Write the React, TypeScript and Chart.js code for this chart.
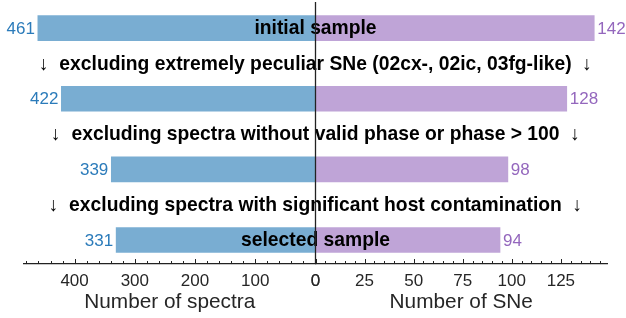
import React, { useEffect, useRef } from 'react';
import { Chart, registerables } from 'chart.js';

Chart.register(...registerables);

// ---- data ----
const rowTexts = [
  'initial sample',
  '↓  excluding extremely peculiar SNe (02cx-, 02ic, 03fg-like)  ↓',
  '',
  '↓  excluding spectra without valid phase or phase > 100  ↓',
  '',
  '↓  excluding spectra with significant host contamination  ↓',
  'selected sample',
];
const barRows = [0, 2, 4, 6];
const spectraCounts = [461, 422, 339, 331];
const sneCounts = [142, 128, 98, 94];
const spectraAxisMax = 484;
const sneAxisMax = 148.5;
const spectraMajor = 100;
const spectraMinor = 20;
const sneMajor = 25;
const sneMinor = 5;
const spectraTitle = 'Number of spectra';
const sneTitle = 'Number of SNe';

const BLUE_BAR = 'rgba(31,119,180,0.6)';
const PURPLE_BAR = 'rgba(148,103,189,0.6)';
const BLUE_TXT = '#2b7bba';
const PURPLE_TXT = '#9467bd';
const AXIS = '#222222';
const FONT = '"Liberation Sans", Arial, sans-serif';

const overlay = {
  id: 'overlay',
  afterDatasetsDraw(chart: any) {
    const { ctx, chartArea, scales } = chart;
    const xL = scales.xL;
    const xR = scales.xR;
    const y = scales.y;
    const cx = xR.left;
    ctx.save();
    // value labels
    ctx.font = `17px ${FONT}`;
    ctx.textBaseline = 'middle';
    chart.getDatasetMeta(0).data.forEach((el: any, i: number) => {
      ctx.fillStyle = BLUE_TXT;
      ctx.textAlign = 'right';
      ctx.fillText(String(spectraCounts[i]), el.x - 3, el.y + 1);
    });
    chart.getDatasetMeta(1).data.forEach((el: any, i: number) => {
      ctx.fillStyle = PURPLE_TXT;
      ctx.textAlign = 'left';
      ctx.fillText(String(sneCounts[i]), el.x + 3, el.y + 1);
    });
    // row annotations
    ctx.font = `bold 19.3px ${FONT}`;
    ctx.textAlign = 'center';
    ctx.fillStyle = '#000';
    rowTexts.forEach((t, i) => {
      if (t) ctx.fillText(t, cx, y.getPixelForValue(i) + 1);
    });
    // center line
    ctx.strokeStyle = AXIS;
    ctx.lineWidth = 1.3;
    ctx.beginPath();
    ctx.moveTo(cx, chartArea.top);
    ctx.lineTo(cx, chartArea.bottom);
    ctx.stroke();
    // tick marks (inward, major/minor)
    ctx.lineWidth = 1;
    const drawTicks = (scale: any, major: number) => {
      scale.ticks.forEach((t: any) => {
        const px = Math.round(scale.getPixelForValue(t.value)) + 0.5;
        const len = t.value % major === 0 ? 5 : 3;
        ctx.beginPath();
        ctx.moveTo(px, chartArea.bottom);
        ctx.lineTo(px, chartArea.bottom - len);
        ctx.stroke();
      });
    };
    drawTicks(xL, spectraMajor);
    drawTicks(xR, sneMajor);
    ctx.restore();
  },
};

export default function App() {
  const ref = useRef<HTMLCanvasElement>(null);
  useEffect(() => {
    document.body.style.margin = '0';
    const canvas = ref.current!;
    const tickCfg = (step: number, major: number) => ({
      stepSize: step,
      includeBounds: false,
      autoSkip: false,
      maxRotation: 0,
      padding: 7,
      color: '#262626',
      font: { family: FONT, size: 17, lineHeight: 1.2 },
      callback: (v: any) => (Number(v) % major === 0 ? String(v) : ''),
    });
    const titleCfg = (text: string) => ({
      display: true,
      text,
      color: '#262626',
      font: { family: FONT, size: 20.8, lineHeight: 1.2 },
      padding: { top: -8.4, bottom: 0 },
    });
    const chart = new Chart(canvas, {
      type: 'bar',
      data: {
        datasets: [
          {
            label: 'spectra',
            data: barRows.map((r, i) => ({ x: spectraCounts[i], y: r })),
            backgroundColor: BLUE_BAR,
            xAxisID: 'xL',
            yAxisID: 'y',
            barThickness: 25,
            grouped: false,
          } as any,
          {
            label: 'SNe',
            data: barRows.map((r, i) => ({ x: sneCounts[i], y: r })),
            backgroundColor: PURPLE_BAR,
            xAxisID: 'xR',
            yAxisID: 'y',
            barThickness: 25,
            grouped: false,
          } as any,
        ],
      },
      options: {
        indexAxis: 'y',
        animation: false,
        responsive: false,
        events: [],
        layout: { padding: { left: 24, right: 19, top: 2, bottom: 3 } },
        plugins: { legend: { display: false }, tooltip: { enabled: false } },
        scales: {
          y: {
            type: 'linear',
            display: false,
            offset: false,
            grid: { offset: false },
            min: -0.74,
            max: 6.68,
            reverse: true,
          },
          xL: {
            type: 'linear',
            position: 'bottom',
            stack: 'x',
            stackWeight: 1,
            reverse: true,
            min: 0,
            max: spectraAxisMax,
            grid: { drawOnChartArea: false, drawTicks: false, color: 'transparent' },
            border: { display: true, color: AXIS, width: 1.2 },
            ticks: tickCfg(spectraMinor, spectraMajor),
            title: titleCfg(spectraTitle),
          },
          xR: {
            type: 'linear',
            position: 'bottom',
            stack: 'x',
            stackWeight: 1,
            min: 0,
            max: sneAxisMax,
            grid: { drawOnChartArea: false, drawTicks: false, color: 'transparent' },
            border: { display: true, color: AXIS, width: 1.2 },
            ticks: tickCfg(sneMinor, sneMajor),
            title: titleCfg(sneTitle),
          },
        } as any,
      },
      plugins: [overlay],
    });
    return () => chart.destroy();
  }, []);
  return (
    <div style={{ position: 'absolute', left: 0, top: 0, width: 626, height: 318 }}>
      <canvas ref={ref} width={626} height={318} style={{ width: 626, height: 318, display: 'block' }} />
    </div>
  );
}
